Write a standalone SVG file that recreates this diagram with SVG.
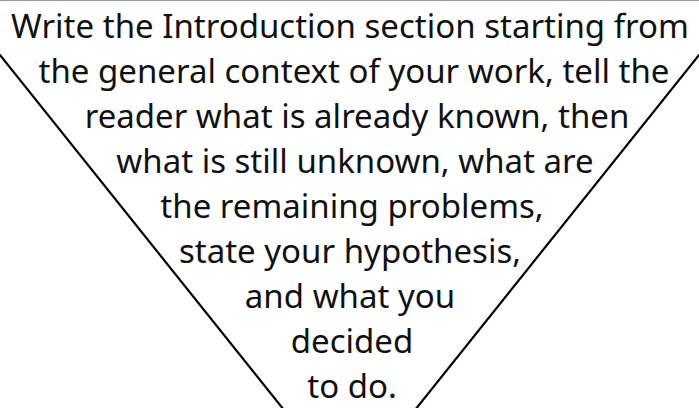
<svg xmlns="http://www.w3.org/2000/svg" width="699" height="408" viewBox="0 0 699 408">
<style>
.t{font-family:"Noto Sans","Open Sans",sans-serif;font-size:33px;fill:#111;text-anchor:middle}
.edge{stroke:#000;stroke-width:2.2;fill:none}
</style>
<rect width="699" height="408" fill="#fff"/>
<rect x="0" y="0" width="699" height="1" fill="#9a9a9a"/>
<g id="funnel">
<line class="edge" x1="-4" y1="50" x2="300" y2="430"/>
<line class="edge" x1="703" y1="50" x2="399" y2="430"/>
</g>
<g id="text">
<text class="t" x="350" y="38">Write the Introduction section starting from</text>
<text class="t" x="354" y="83">the general context of your work, tell the</text>
<text class="t" x="357" y="128">reader what is already known, then</text>
<text class="t" x="355" y="173">what is still unknown, what are</text>
<text class="t" x="352" y="218">the remaining problems,</text>
<text class="t" x="350" y="263">state your hypothesis,</text>
<text class="t" x="350" y="308">and what you</text>
<text class="t" x="352" y="353">decided</text>
<text class="t" x="352" y="398">to do.</text>
</g>
</svg>
